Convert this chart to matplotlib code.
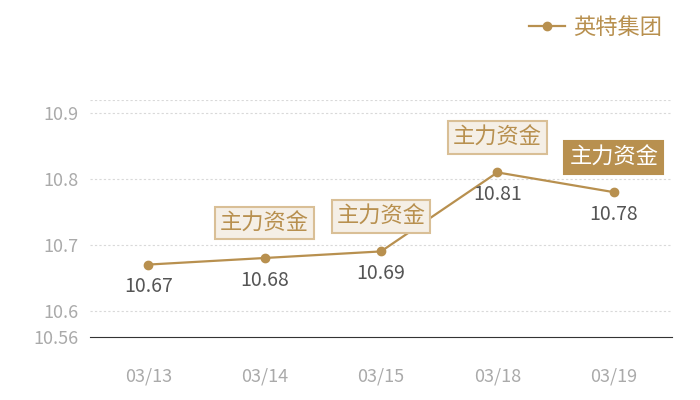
import numpy as np
import matplotlib
matplotlib.use('Agg')
import matplotlib.pyplot as plt

plt.rcParams['font.family'] = ['Noto Sans CJK SC', 'DejaVu Sans']

dates = ['03/13', '03/14', '03/15', '03/18', '03/19']
prices = [10.67, 10.68, 10.69, 10.81, 10.78]
series_name = '英特集团'
flag_text = '主力资金'
flag_idx = [1, 2, 3]      # light boxes
flag_dark_idx = [4]       # dark box
y_ticks = [10.56, 10.6, 10.7, 10.8, 10.9]

gold = '#b8904f'

fig = plt.figure(figsize=(7, 4), dpi=100)
ax = fig.add_axes([90 / 700, 63 / 400, 582 / 700, 237 / 400])

x = np.arange(len(dates))
line, = ax.plot(x, prices, color=gold, lw=1.6, marker='o', ms=6, zorder=3)

for i, v in enumerate(prices):
    ax.annotate(f'{v:.2f}', (i, v), xytext=(0, -22), textcoords='offset pixels',
                ha='center', va='center', fontsize=14, color='#555555', zorder=4)

for i in flag_idx:
    ax.annotate(flag_text, (i, prices[i]), xytext=(0, 35), textcoords='offset pixels',
                ha='center', va='center', fontsize=16, color=gold, zorder=5,
                bbox=dict(boxstyle='square,pad=0.22', fc='#f5efe6', ec='#d9bf96', lw=1.5))
for i in flag_dark_idx:
    ax.annotate(flag_text, (i, prices[i]), xytext=(0, 35), textcoords='offset pixels',
                ha='center', va='center', fontsize=16, color='white', zorder=5,
                bbox=dict(boxstyle='square,pad=0.22', fc=gold, ec=gold, lw=1.5))

ax.set_xlim(-0.5, len(dates) - 0.5)
ax.set_ylim(10.56, 10.92)
ax.set_xticks(x)
ax.set_xticklabels(dates)
ax.set_yticks(y_ticks)
ax.set_yticklabels(['10.56', '10.6', '10.7', '10.8', '10.9'])

for gy in [10.6, 10.7, 10.8, 10.9, 10.92]:
    ax.axhline(gy, color='#d9d9d9', lw=0.8, ls=(0, (2, 2)), zorder=1)

for s in ['top', 'right', 'left']:
    ax.spines[s].set_visible(False)
ax.spines['bottom'].set_color('#333333')
ax.tick_params(axis='both', length=0, colors='#aaaaaa', labelsize=13)
ax.tick_params(axis='x', pad=22)
ax.tick_params(axis='y', pad=8)

fig.legend([line], [series_name], loc='upper right', bbox_to_anchor=(0.975, 1.01),
           frameon=False, fontsize=16, labelcolor=gold, handlelength=1.6,
           handletextpad=0.4)

plt.savefig('out.png', dpi=100)
